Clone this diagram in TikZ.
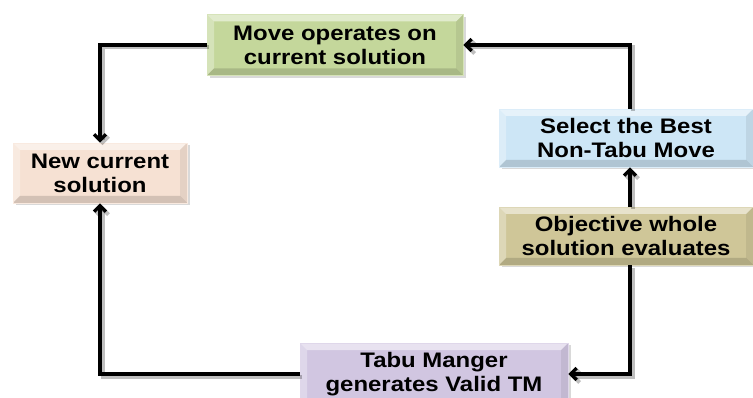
\documentclass[tikz,border=0pt]{standalone}
\usepackage{fontspec}
\newfontfamily\boxfont[FakeStretch=1.14]{Liberation Sans}
\usetikzlibrary{arrows.meta,shadows}
\definecolor{movec}{HTML}{C4D79B}
\definecolor{newc}{HTML}{F6E1D3}
\definecolor{selc}{HTML}{CDE6F6}
\definecolor{objc}{HTML}{CFC698}
\definecolor{tabuc}{HTML}{D1C6E1}
\tikzset{
  bev/.style={path picture={
    \coordinate (nw) at (path picture bounding box.north west);
    \coordinate (ne) at (path picture bounding box.north east);
    \coordinate (sw) at (path picture bounding box.south west);
    \coordinate (se) at (path picture bounding box.south east);
    \fill[white,opacity=.5] (nw) -- (ne) -- ([shift={(-7pt,-7pt)}]ne) -- ([shift={(7pt,-7pt)}]nw) -- cycle;
    \fill[white,opacity=.3] (nw) -- ([shift={(7pt,-7pt)}]nw) -- ([shift={(7pt,7pt)}]sw) -- (sw) -- cycle;
    \fill[black,opacity=.14] (sw) -- (se) -- ([shift={(-7pt,7pt)}]se) -- ([shift={(7pt,7pt)}]sw) -- cycle;
    \fill[black,opacity=.07] (ne) -- (se) -- ([shift={(-7pt,7pt)}]se) -- ([shift={(-7pt,-7pt)}]ne) -- cycle;
  }},
  box/.style={rectangle, fill=#1, draw=#1!70!white, line width=0.6pt, inner sep=0pt, align=center,
    font=\boxfont\bfseries\fontsize{21}{24}\selectfont,
    drop shadow={shadow xshift=2.5pt, shadow yshift=-2.5pt, opacity=.3}, bev},
  conn/.style={line width=3.4pt, -{Straight Barb[length=6pt,width=12pt]},
    preaction={draw, black, opacity=.25, line width=4pt, transform canvas={shift={(2.5pt,-2.5pt)}}}},
}
\begin{document}
\begin{tikzpicture}[x=1pt,y=-1pt]
\useasboundingbox (0,0) rectangle (753,398);
\node[box=movec, minimum width=256pt, minimum height=61pt] (move) at (335,45) {Move operates on\\current solution};
\node[box=newc, minimum width=174pt, minimum height=60pt] (new) at (100,173) {New current\\solution};
\node[box=selc, minimum width=254pt, minimum height=58pt] (sel) at (626,138) {Select the Best\\Non-Tabu Move};
\node[box=objc, minimum width=254pt, minimum height=58pt] (obj) at (626,236) {Objective whole\\solution evaluates};
\node[box=tabuc, minimum width=268pt, minimum height=62pt] (tabu) at (434,374) {Tabu Manger\\generates Valid TM};
\draw[conn] (move.west) -| (new.north);
\draw[conn] (tabu.west) -| (new.south);
\draw[conn] ([xshift=4pt]sel.north) |- (move.east);
\draw[conn] ([xshift=4pt]obj.north) -- ([xshift=4pt]sel.south);
\draw[conn] ([xshift=4pt]obj.south) |- (tabu.east);
\end{tikzpicture}
\end{document}
